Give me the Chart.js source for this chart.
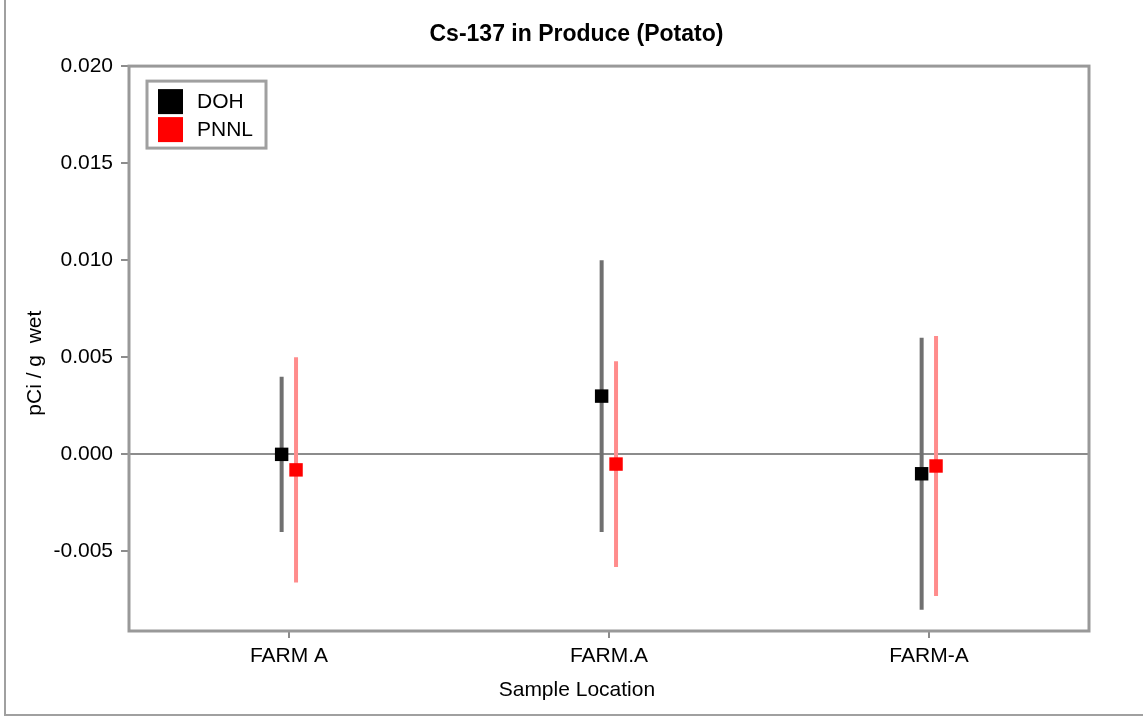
<!DOCTYPE html>
<html>
<head>
<meta charset="utf-8">
<script src="https://cdn.jsdelivr.net/npm/chart.js@4/dist/chart.umd.min.js"></script>
<style>
  html, body { margin: 0; padding: 0; background: #fff; }
  canvas { display: block; }
</style>
</head>
<body>
<canvas id="chart" width="1143" height="717"></canvas>
<script>
// values
const categories = ['FARM A', 'FARM.A', 'FARM-A'];
const dohValues = [0.0000, 0.0030, -0.0010];
const dohErrors = [0.0040, 0.0070, 0.0070];
const pnnlValues = [-0.0008, -0.0005, -0.0006];
const pnnlErrors = [0.0058, 0.0053, 0.0067];
const yTicks = [-0.005, 0.000, 0.005, 0.010, 0.015, 0.020];

const FONT = "'Liberation Sans', Arial, sans-serif";
const GRAY = '#8c8c8c';

function points(values, errors, shift) {
    return values.map((v, i) => ({ x: i + 1 + shift, y: v, err: errors[i] }));
}

// white page, left + bottom frame lines, plot frame
const framePlugin = {
    id: 'frame',
    beforeDraw(chart) {
        const ctx = chart.ctx;
        ctx.save();
        ctx.fillStyle = '#fff';
        ctx.fillRect(0, 0, chart.width, chart.height);
        ctx.strokeStyle = '#a0a0a0';
        ctx.lineWidth = 2;
        ctx.beginPath();
        ctx.moveTo(5, 0);
        ctx.lineTo(5, 715);
        ctx.lineTo(chart.width, 715);
        ctx.stroke();
        ctx.restore();
    },
    afterDraw(chart) {
        const a = chart.chartArea;
        const ctx = chart.ctx;
        ctx.save();
        ctx.strokeStyle = '#999';
        ctx.lineWidth = 3;
        ctx.strokeRect(a.left, a.top, a.right - a.left, a.bottom - a.top);
        ctx.restore();
    }
};

// vertical error bars behind the markers
const errorBarPlugin = {
    id: 'errorBars',
    beforeDatasetsDraw(chart) {
        const ctx = chart.ctx;
        const xs = chart.scales.x, ys = chart.scales.y;
        ctx.save();
        chart.data.datasets.forEach(ds => {
            ctx.strokeStyle = ds.barColor;
            ctx.lineWidth = 4;
            ds.data.forEach(p => {
                const px = xs.getPixelForValue(p.x);
                ctx.beginPath();
                ctx.moveTo(px, ys.getPixelForValue(p.y + p.err));
                ctx.lineTo(px, ys.getPixelForValue(p.y - p.err));
                ctx.stroke();
            });
        });
        ctx.restore();
    }
};

// legend box inside the plot
const boxLegend = {
    id: 'boxLegend',
    afterDraw(chart) {
        const ctx = chart.ctx;
        const a = chart.chartArea;
        const x0 = a.left + 18, y0 = a.top + 15;
        ctx.save();
        ctx.fillStyle = '#fff';
        ctx.fillRect(x0, y0, 119, 67);
        ctx.strokeStyle = '#a0a0a0';
        ctx.lineWidth = 3;
        ctx.strokeRect(x0, y0, 119, 67);
        ctx.font = '21px ' + FONT;
        ctx.textBaseline = 'middle';
        chart.data.datasets.forEach((ds, i) => {
            const top = y0 + 8 + i * 28;
            ctx.fillStyle = ds.backgroundColor;
            ctx.fillRect(x0 + 11, top, 25, 25);
            ctx.fillStyle = '#000';
            ctx.fillText(ds.label, x0 + 50, top + 13);
        });
        ctx.restore();
    }
};

new Chart(document.getElementById('chart'), {
    type: 'scatter',
    data: {
        datasets: [
            {
                label: 'DOH',
                data: points(dohValues, dohErrors, -0.023),
                backgroundColor: '#000000',
                borderColor: '#000000',
                barColor: '#707070',
                pointStyle: 'rect',
                pointRadius: 9.5,
                borderWidth: 0
            },
            {
                label: 'PNNL',
                data: points(pnnlValues, pnnlErrors, 0.022),
                backgroundColor: '#ff0000',
                borderColor: '#ff0000',
                barColor: '#ff8c8c',
                pointStyle: 'rect',
                pointRadius: 9.5,
                borderWidth: 0
            }
        ]
    },
    options: {
        responsive: false,
        animation: false,
        devicePixelRatio: 1,
        layout: { padding: { left: 0, right: 54, top: 0, bottom: 0 } },
        plugins: {
            legend: { display: false },
            tooltip: { enabled: false },
            title: {
                display: true,
                text: '          Cs-137 in Produce (Potato)',
                color: '#000',
                font: { family: FONT, size: 23, weight: 'bold' },
                padding: { top: 21, bottom: 17.5 }
            }
        },
        scales: {
            x: {
                type: 'linear',
                min: 0.5,
                max: 3.5,
                afterBuildTicks: s => { s.ticks = categories.map((c, i) => ({ value: i + 1 })); },
                afterFit: s => { s.height = 86; },
                border: { display: false },
                grid: { drawOnChartArea: false, tickLength: 7, tickColor: GRAY, lineWidth: 2 },
                ticks: {
                    color: '#000',
                    padding: 6,
                    maxRotation: 0,
                    font: { family: FONT, size: 21 },
                    callback: v => categories[v - 1]
                },
                title: {
                    display: true,
                    text: 'Sample Location           ',
                    color: '#000',
                    font: { family: FONT, size: 21 },
                    padding: { bottom: 14 }
                }
            },
            y: {
                min: -0.0091,
                max: 0.020,
                afterBuildTicks: s => { s.ticks = yTicks.map(v => ({ value: v })); },
                afterFit: s => { s.width = 129; },
                border: { display: false },
                grid: {
                    tickLength: 8,
                    tickColor: GRAY,
                    lineWidth: 2,
                    color: c => (c.tick && c.tick.value === 0) ? GRAY : 'rgba(0,0,0,0)'
                },
                ticks: {
                    color: '#000',
                    padding: 8,
                    font: { family: FONT, size: 21 },
                    callback: v => v.toFixed(3)
                },
                title: {
                    display: true,
                    text: 'pCi / g  wet     ',
                    color: '#000',
                    font: { family: FONT, size: 21 },
                    padding: { top: 23 }
                }
            }
        }
    },
    plugins: [framePlugin, errorBarPlugin, boxLegend]
});
</script>
</body>
</html>
